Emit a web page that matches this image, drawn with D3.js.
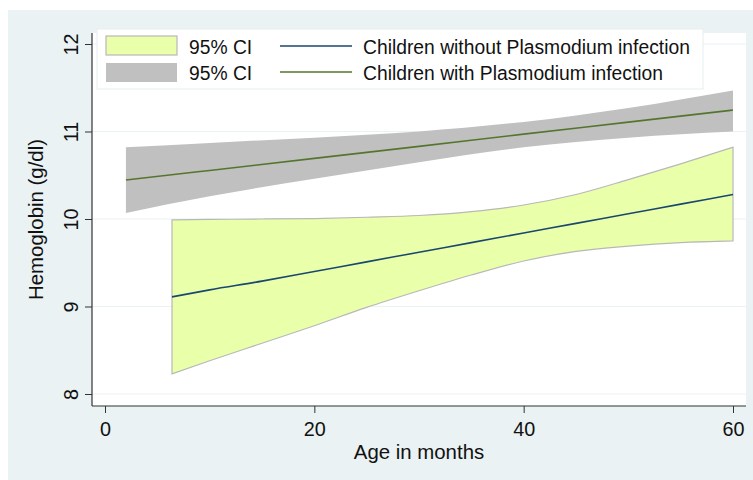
<!DOCTYPE html>
<html>
<head>
<meta charset="utf-8">
<script src="https://cdn.jsdelivr.net/npm/d3@7"></script>
<style>
	body { margin: 0; background: #ffffff; }
	svg { display: block; font-family: "Liberation Sans", Arial, Helvetica, sans-serif; }
</style>
</head>
<body>
<svg id="chart" width="753" height="480"></svg>
<script>
// children without Plasmodium infection
var ageNo = [6.4, 10, 15, 20, 25, 30, 35, 40, 45, 50, 55, 60];
var fitNo = [9.11, 9.19, 9.29, 9.40, 9.51, 9.62, 9.73, 9.84, 9.95, 10.06, 10.17, 10.28];
var loNo  = [8.23, 8.38, 8.58, 8.78, 8.99, 9.18, 9.36, 9.52, 9.63, 9.69, 9.73, 9.75];
var hiNo  = [9.99, 9.995, 10.0, 10.005, 10.02, 10.04, 10.085, 10.16, 10.28, 10.45, 10.63, 10.82];

// children with Plasmodium infection
var ageYes = [2, 10, 20, 30, 40, 50, 60];
var fitYes = [10.445, 10.555, 10.693, 10.83, 10.97, 11.107, 11.245];
var loYes  = [10.07, 10.26, 10.46, 10.65, 10.82, 10.93, 11.0];
var hiYes  = [10.82, 10.87, 10.93, 11.0, 11.11, 11.27, 11.47];

var xTicks = [0, 20, 40, 60];
var yTicks = [8, 9, 10, 11, 12];
var legendLabels = ["95% CI", "95% CI", "Children without Plasmodium infection", "Children with Plasmodium infection"];

var svg = d3.select("#chart");

// plot region bounds
var plotLeft = 92, plotRight = 746, plotTop = 33, plotBottom = 406;

var x = d3.scaleLinear().domain([0, 60]).range([105, 733]);
var y = d3.scaleLinear().domain([8, 12]).range([394, 44]);

// graph region
svg.append("rect")
	.attr("x", 8).attr("y", 10)
	.attr("width", 745).attr("height", 470)
	.attr("fill", "#eaf2f3");

svg.append("rect")
	.attr("x", plotLeft).attr("y", plotTop)
	.attr("width", plotRight - plotLeft).attr("height", plotBottom - plotTop)
	.attr("fill", "#ffffff");

// grid lines
svg.selectAll(".grid").data(yTicks).enter()
	.append("line")
	.attr("class", "grid")
	.attr("x1", plotLeft).attr("x2", plotRight)
	.attr("y1", function(d){ return y(d); })
	.attr("y2", function(d){ return y(d); })
	.attr("stroke", "#eaf2f3")
	.attr("stroke-width", 1.2);

function zip(ages, a, b){
	return ages.map(function(d, i){ return {age: d, a: a[i], b: b[i]}; });
}

var band = d3.area()
	.curve(d3.curveMonotoneX)
	.x(function(d){ return x(d.age); })
	.y0(function(d){ return y(d.a); })
	.y1(function(d){ return y(d.b); });

var line = d3.line()
	.curve(d3.curveMonotoneX)
	.x(function(d){ return x(d.age); })
	.y(function(d){ return y(d.a); });

// gray band + green line
svg.append("path")
	.datum(zip(ageYes, loYes, hiYes))
	.attr("d", band)
	.attr("fill", "#c0c0c0");

svg.append("path")
	.datum(zip(ageYes, fitYes, fitYes))
	.attr("d", line)
	.attr("fill", "none")
	.attr("stroke", "#55752f")
	.attr("stroke-width", 1.6);

// yellow band + blue line
svg.append("path")
	.datum(zip(ageNo, loNo, hiNo))
	.attr("d", band)
	.attr("fill", "#eaffaa")
	.attr("stroke", "#b8b8b8")
	.attr("stroke-width", 1.2);

svg.append("path")
	.datum(zip(ageNo, fitNo, fitNo))
	.attr("d", line)
	.attr("fill", "none")
	.attr("stroke", "#1a476f")
	.attr("stroke-width", 1.6);

// axes
var yAxis = svg.append("g")
	.attr("transform", "translate(" + plotLeft + ",0)")
	.call(d3.axisLeft(y).tickValues(yTicks).tickSize(7).tickFormat(d3.format("d")));
yAxis.select(".domain").remove();
yAxis.selectAll(".tick line").attr("stroke", "#333333");
yAxis.selectAll(".tick text")
	.attr("x", 0).attr("y", 0).attr("dy", 0)
	.attr("transform", "translate(-14,0) rotate(-90)")
	.attr("text-anchor", "middle")
	.attr("font-size", 19.8)
	.attr("font-family", null)
	.attr("fill", "#111111");

var xAxis = svg.append("g")
	.attr("transform", "translate(0," + plotBottom + ")")
	.call(d3.axisBottom(x).tickValues(xTicks).tickSize(7).tickFormat(d3.format("d")));
xAxis.select(".domain").remove();
xAxis.selectAll(".tick line").attr("stroke", "#333333");
xAxis.selectAll(".tick text")
	.attr("y", 30).attr("dy", 0)
	.attr("font-size", 19.8)
	.attr("font-family", null)
	.attr("fill", "#111111");

svg.append("line")
	.attr("x1", plotLeft).attr("x2", plotLeft)
	.attr("y1", plotTop).attr("y2", plotBottom)
	.attr("stroke", "#333333").attr("stroke-width", 1.2);
svg.append("line")
	.attr("x1", plotLeft).attr("x2", plotRight)
	.attr("y1", plotBottom).attr("y2", plotBottom)
	.attr("stroke", "#333333").attr("stroke-width", 1.2);

// axis titles
svg.append("text")
	.attr("x", (plotLeft + plotRight) / 2).attr("y", 459)
	.attr("text-anchor", "middle")
	.attr("font-size", 20.4)
	.attr("fill", "#111111")
	.text("Age in months");

svg.append("text")
	.attr("transform", "translate(43," + (plotTop + plotBottom) / 2 + ") rotate(-90)")
	.attr("text-anchor", "middle")
	.attr("font-size", 20.4)
	.attr("fill", "#111111")
	.text("Hemoglobin (g/dl)");

// legend
var legend = svg.append("g");
legend.append("rect")
	.attr("x", 97).attr("y", 29)
	.attr("width", 606).attr("height", 60)
	.attr("fill", "#ffffff")
	.attr("stroke", "#e6eef0");

legend.append("rect")
	.attr("x", 106).attr("y", 36).attr("width", 71).attr("height", 19)
	.attr("fill", "#eaffaa").attr("stroke", "#b8b8b8").attr("stroke-width", 1.2);
legend.append("rect")
	.attr("x", 106).attr("y", 63).attr("width", 71).attr("height", 19)
	.attr("fill", "#c0c0c0");

legend.append("line")
	.attr("x1", 280).attr("x2", 352).attr("y1", 46).attr("y2", 46)
	.attr("stroke", "#1a476f").attr("stroke-width", 1.6);
legend.append("line")
	.attr("x1", 280).attr("x2", 352).attr("y1", 72).attr("y2", 72)
	.attr("stroke", "#55752f").attr("stroke-width", 1.6);

var legendPos = [[189, 54], [189, 80], [363, 54], [363, 80]];
legend.selectAll(".ltext").data(legendLabels).enter()
	.append("text")
	.attr("class", "ltext")
	.attr("x", function(d, i){ return legendPos[i][0]; })
	.attr("y", function(d, i){ return legendPos[i][1]; })
	.attr("font-size", 19.3)
	.attr("fill", "#111111")
	.text(function(d){ return d; });
</script>
</body>
</html>
